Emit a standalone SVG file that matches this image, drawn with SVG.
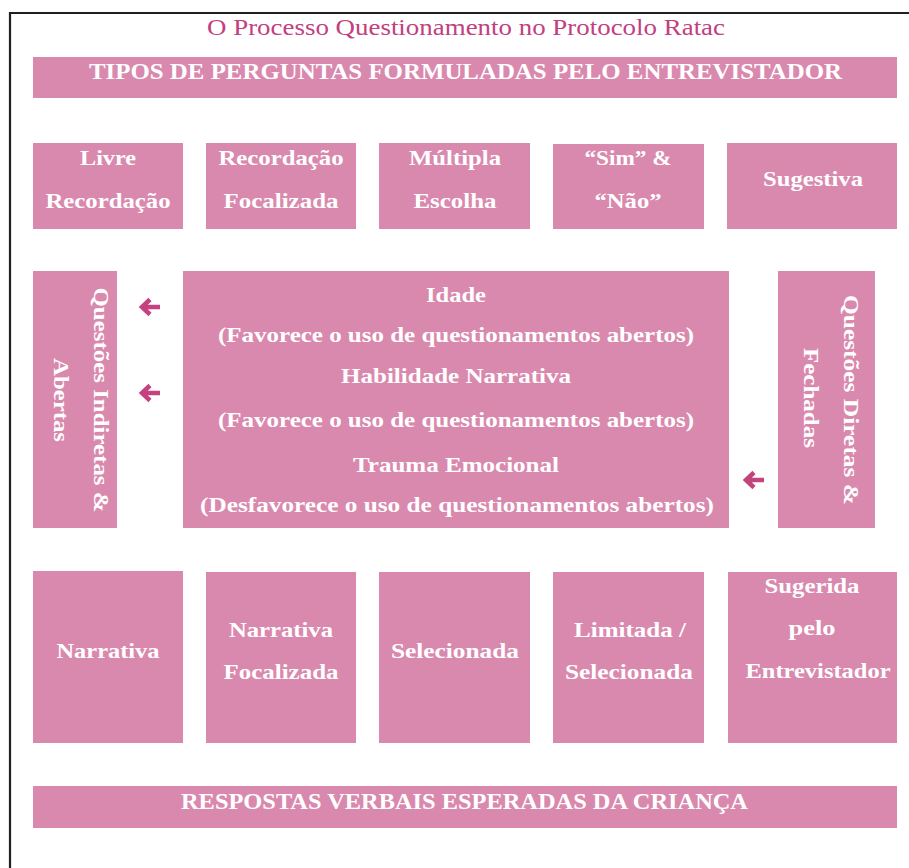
<svg xmlns="http://www.w3.org/2000/svg" width="909" height="868" viewBox="0 0 909 868">
<style>
.box{fill:#DA89AE}
.t{font-family:"Liberation Serif","Times New Roman",serif;font-weight:bold;font-size:22px;fill:#FFFFFF;text-anchor:middle}
.b{font-family:"Liberation Serif","Times New Roman",serif;font-weight:bold;font-size:23px;fill:#FFFFFF;text-anchor:middle}
.title{font-family:"Liberation Serif","Times New Roman",serif;font-size:24px;fill:#C2407F;text-anchor:middle}
.v{font-family:"Liberation Serif","Times New Roman",serif;font-weight:bold;font-size:22px;fill:#FFFFFF;text-anchor:middle;dominant-baseline:central}
.arr{fill:none;stroke:#C4437F;stroke-width:4.5;stroke-linejoin:miter}
</style>
<defs>
<path id="arrow" class="arr" d="M21,0 H3 M11,-7.5 L3,0 L11,7.5"/>
</defs>
<rect width="909" height="868" fill="#FFFFFF"/>
<path d="M10,868 V13 H909" fill="none" stroke="#231F20" stroke-width="2.2"/>

<g id="title"><text class="title" x="466" y="35" textLength="518" lengthAdjust="spacingAndGlyphs">O Processo Questionamento no Protocolo Ratac</text></g>

<g id="banner-top"><rect class="box" x="33" y="57" width="864" height="41"/>
<text class="b" x="465.5" y="79" textLength="753" lengthAdjust="spacingAndGlyphs">TIPOS DE PERGUNTAS FORMULADAS PELO ENTREVISTADOR</text></g>

<g id="q1"><rect class="box" x="33" y="143" width="150" height="86"/>
<text class="t" x="108" y="165" textLength="56" lengthAdjust="spacingAndGlyphs">Livre</text>
<text class="t" x="108" y="208" textLength="125" lengthAdjust="spacingAndGlyphs">Recordação</text></g>
<g id="q2"><rect class="box" x="206" y="143" width="150" height="86"/>
<text class="t" x="281" y="165" textLength="125" lengthAdjust="spacingAndGlyphs">Recordação</text>
<text class="t" x="281" y="208" textLength="115" lengthAdjust="spacingAndGlyphs">Focalizada</text></g>
<g id="q3"><rect class="box" x="379" y="143" width="151" height="86"/>
<text class="t" x="455" y="165" textLength="92" lengthAdjust="spacingAndGlyphs">Múltipla</text>
<text class="t" x="455" y="208" textLength="83" lengthAdjust="spacingAndGlyphs">Escolha</text></g>
<g id="q4"><rect class="box" x="553" y="144" width="151" height="85"/>
<text class="t" x="628" y="165" textLength="87" lengthAdjust="spacingAndGlyphs">“Sim” &amp;</text>
<text class="t" x="628" y="208" textLength="67" lengthAdjust="spacingAndGlyphs">“Não”</text></g>
<g id="q5"><rect class="box" x="727" y="143" width="170" height="86"/>
<text class="t" x="813" y="186" textLength="100" lengthAdjust="spacingAndGlyphs">Sugestiva</text></g>

<g id="left"><rect class="box" x="33" y="271" width="84" height="257"/>
<text class="v" transform="translate(101,400) rotate(90)" textLength="225" lengthAdjust="spacingAndGlyphs">Questões Indiretas &amp;</text>
<text class="v" transform="translate(61,400) rotate(90)" textLength="84" lengthAdjust="spacingAndGlyphs">Abertas</text></g>

<g id="center"><rect class="box" x="183" y="271" width="546" height="257"/>
<text class="t" x="456" y="302" textLength="60" lengthAdjust="spacingAndGlyphs">Idade</text>
<text class="t" x="456" y="342" textLength="476" lengthAdjust="spacingAndGlyphs">(Favorece o uso de questionamentos abertos)</text>
<text class="t" x="456" y="383" textLength="230" lengthAdjust="spacingAndGlyphs">Habilidade Narrativa</text>
<text class="t" x="456" y="427" textLength="476" lengthAdjust="spacingAndGlyphs">(Favorece o uso de questionamentos abertos)</text>
<text class="t" x="456" y="472" textLength="206" lengthAdjust="spacingAndGlyphs">Trauma Emocional</text>
<text class="t" x="457" y="512" textLength="514" lengthAdjust="spacingAndGlyphs">(Desfavorece o uso de questionamentos abertos)</text></g>

<g id="right"><rect class="box" x="778" y="271" width="97" height="257"/>
<text class="v" transform="translate(851,400) rotate(90)" textLength="210" lengthAdjust="spacingAndGlyphs">Questões Diretas &amp;</text>
<text class="v" transform="translate(811,398) rotate(90)" textLength="100" lengthAdjust="spacingAndGlyphs">Fechadas</text></g>

<g id="connectors">
<use href="#arrow" x="139" y="307"/>
<use href="#arrow" x="139" y="393"/>
<use href="#arrow" x="743" y="480"/>
</g>

<g id="r1"><rect class="box" x="33" y="571" width="150" height="172"/>
<text class="t" x="108" y="658" textLength="103" lengthAdjust="spacingAndGlyphs">Narrativa</text></g>
<g id="r2"><rect class="box" x="206" y="572" width="150" height="171"/>
<text class="t" x="281" y="637" textLength="104" lengthAdjust="spacingAndGlyphs">Narrativa</text>
<text class="t" x="281" y="679" textLength="115" lengthAdjust="spacingAndGlyphs">Focalizada</text></g>
<g id="r3"><rect class="box" x="379" y="572" width="151" height="171"/>
<text class="t" x="455" y="658" textLength="128" lengthAdjust="spacingAndGlyphs">Selecionada</text></g>
<g id="r4"><rect class="box" x="553" y="572" width="151" height="171"/>
<text class="t" x="630" y="637" textLength="112" lengthAdjust="spacingAndGlyphs">Limitada /</text>
<text class="t" x="629" y="679" textLength="128" lengthAdjust="spacingAndGlyphs">Selecionada</text></g>
<g id="r5"><rect class="box" x="728" y="572" width="169" height="171"/>
<text class="t" x="812" y="593" textLength="95" lengthAdjust="spacingAndGlyphs">Sugerida</text>
<text class="t" x="812" y="635" textLength="47" lengthAdjust="spacingAndGlyphs">pelo</text>
<text class="t" x="818" y="678" textLength="145" lengthAdjust="spacingAndGlyphs">Entrevistador</text></g>

<g id="banner-bottom"><rect class="box" x="33" y="786" width="864" height="42"/>
<text class="b" x="464.5" y="809" textLength="567" lengthAdjust="spacingAndGlyphs">RESPOSTAS VERBAIS ESPERADAS DA CRIANÇA</text></g>
</svg>
